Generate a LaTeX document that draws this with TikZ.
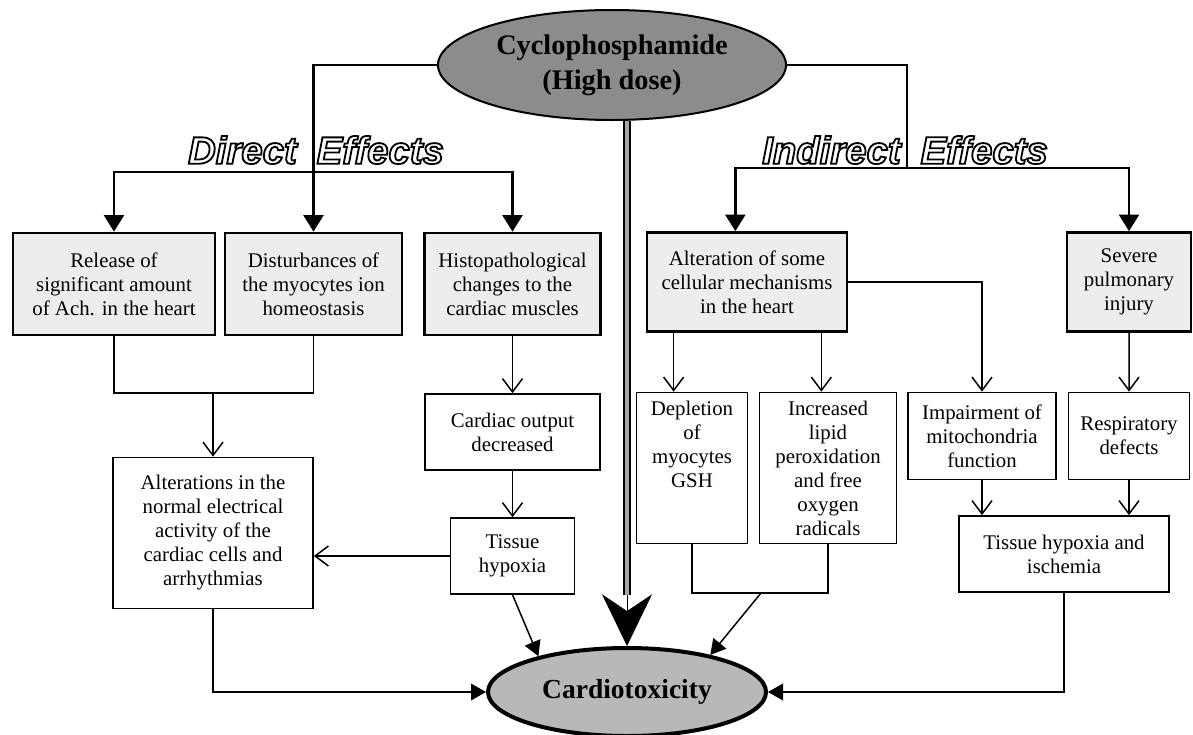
\documentclass[tikz,border=0pt]{standalone}
\usepackage{fontspec}
\setmainfont{Liberation Serif}
\newfontfamily\effectfont{Liberation Sans}
\usetikzlibrary{shapes.geometric, arrows.meta, positioning}
\newcommand{\boxfont}{\fontsize{12.5}{14.4}\selectfont}
\newcommand{\hollow}[1]{\special{pdf:literal direct 1 Tr 1.1 w}#1\special{pdf:literal direct 0 Tr}} % outlined letters
\tikzset{
mainbox/.style={draw, line width=1.6pt, fill=black!7, align=center, font=\boxfont, inner sep=2pt}, % shaded first-level boxes
subbox/.style={draw, line width=1pt, fill=white, align=center, font=\boxfont, inner sep=2pt}, % plain boxes further down
drug/.style={ellipse, draw, line width=1.2pt, fill=black!45, inner sep=0pt, align=center, font=\fontsize{17}{21}\selectfont\bfseries},
outcome/.style={ellipse, draw, line width=2.4pt, fill=black!28, inner sep=0pt, font=\fontsize{16.5}{20}\selectfont\bfseries},
effect/.style={inner sep=0pt, font=\effectfont\fontsize{23}{26}\selectfont\bfseries\itshape}, % outlined headings
trunk/.style={line width=1.6pt},
branch/.style={line width=1.6pt, -{Triangle[length=10pt, width=12pt]}}, % heavy arrows from the drug
joinline/.style={line width=0.9pt},
link/.style={line width=0.9pt, -{Straight Barb[length=8pt, width=12pt]}}, % open heads
feed/.style={line width=0.9pt, -{Triangle[length=9pt, width=10pt]}}, % arrows into cardiotoxicity
shaft/.style={line width=0.9pt, double=black!35, double distance=2.5pt},
bighead/.style={line width=0.5pt, -{Stealth[length=31pt, width=30pt, inset=10pt]}},
}

\begin{document}
\begin{tikzpicture}[x=0.6pt, y=-0.6pt, node distance=119.7pt]
\useasboundingbox (0,0) rectangle (1193,734);

% drug and outcome
\node[drug, minimum width=208.8pt, minimum height=66pt] (cyclo) at (612,65) {Cyclophosphamide\\(High dose)};
\node[outcome, minimum width=166.8pt, minimum height=52.8pt] (cardio) at (627,692) {Cardiotoxicity};

\node[effect] (direct) at (316,150) {\hollow{Direct\hspace{12pt}Effects}};
\node[effect] (indirect) at (905,150) {\hollow{Indirect\hspace{12pt}Effects}};

% first level
\node[mainbox, minimum width=121.2pt, minimum height=61.2pt] (release) at (114,284) {Release of\\significant amount\\of Ach. in the heart};
\node[mainbox, right of=release, minimum width=106.2pt, minimum height=61.2pt] (disturb) {Disturbances of\\the myocytes ion\\homeostasis};
\node[mainbox, node distance=119.4pt, right of=disturb, minimum width=105.6pt, minimum height=61.2pt] (histo) {Histopathological\\changes to the\\cardiac muscles};
\node[mainbox, minimum width=120pt, minimum height=59.4pt] (alter) at (747,282) {Alteration of some\\cellular mechanisms\\in the heart};
\node[mainbox, node distance=229.2pt, right of=alter, minimum width=74.4pt, minimum height=59.4pt] (severe) {Severe\\pulmonary\\injury};

% further down
\node[subbox, node distance=88.8pt, below of=histo, minimum width=105pt, minimum height=45.6pt] (output) {Cardiac output\\decreased};
\node[subbox, node distance=74.4pt, below of=output, minimum width=74.4pt, minimum height=45.6pt] (hypoxia) {Tissue\\hypoxia};
\node[subbox, minimum width=120pt, minimum height=90.6pt] (rhythm) at (213,533) {Alterations in the\\normal electrical\\activity of the\\cardiac cells and\\arrhythmias};
\node[subbox, minimum width=66.6pt, minimum height=90.6pt, text depth=28pt] (gsh) at (692,468) {Depletion\\of\\myocytes\\GSH};
\node[subbox, node distance=81.6pt, right of=gsh, minimum width=82.2pt, minimum height=90.6pt] (lipid) {Increased\\lipid\\peroxidation\\and free\\oxygen\\radicals};
\node[subbox, minimum width=88.8pt, minimum height=52.2pt] (mito) at (982,436) {Impairment of\\mitochondria\\function};
\node[subbox, node distance=88.2pt, right of=mito, minimum width=72.6pt, minimum height=52.2pt] (resp) {Respiratory\\defects};
\node[subbox, minimum width=126pt, minimum height=45.6pt] (ischemia) at (1064,554) {Tissue hypoxia and\\ischemia};

\coordinate (dsplit) at (313.5,172);
\coordinate (isplit) at (907,168);
\coordinate (ljoin) at (213,393);
\coordinate (mjoin) at (761,593);
\coordinate (alterin) at ([xshift=-7pt]alter.north);
\coordinate (gshin) at ([xshift=-11pt]gsh.north);
\coordinate (lipidin) at ([xshift=-4pt]lipid.north);

% branches from the drug
\draw[branch] (cyclo.west) -| (disturb.north);
\draw[branch] (dsplit) -| (release.north);
\draw[branch] (dsplit) -| (histo.north);
\draw[trunk] (cyclo.east) -| (isplit);
\draw[branch] (isplit) -| (alterin);
\draw[branch] (isplit) -| (severe.north);
\draw[shaft] (cyclo.south -| cardio.north) -- (cardio.north |- hypoxia.south);
\draw[bighead] (cardio.north |- hypoxia.south) -- (cardio.north);

% direct side
\draw[joinline] (release.south) |- (ljoin) -| (disturb.south);
\draw[link] (ljoin) -- (rhythm.north);
\draw[link] (histo.south) -- (output.north);
\draw[link] (output.south) -- (hypoxia.north);
\draw[link] (hypoxia.west) -- (hypoxia.west -| rhythm.east);
\draw[feed] (hypoxia.south) -- (cardio.158);
\draw[feed] (rhythm.south) |- (cardio.west);

% indirect side
\draw[link] (gshin |- alter.south) -- (gshin);
\draw[link] (lipidin |- alter.south) -- (lipidin);
\draw[link] (alter.east) -| (mito.north);
\draw[link] (severe.south) -- (resp.north);
\draw[joinline] (gsh.south) |- (mjoin) -| (lipid.south);
\draw[feed] (mjoin) -- (cardio.24);
\draw[link] (mito.south) -- (mito.south |- ischemia.north);
\draw[link] (resp.south) -- (resp.south |- ischemia.north);
\draw[feed] (ischemia.south) |- (cardio.east);
\end{tikzpicture}
\end{document}
